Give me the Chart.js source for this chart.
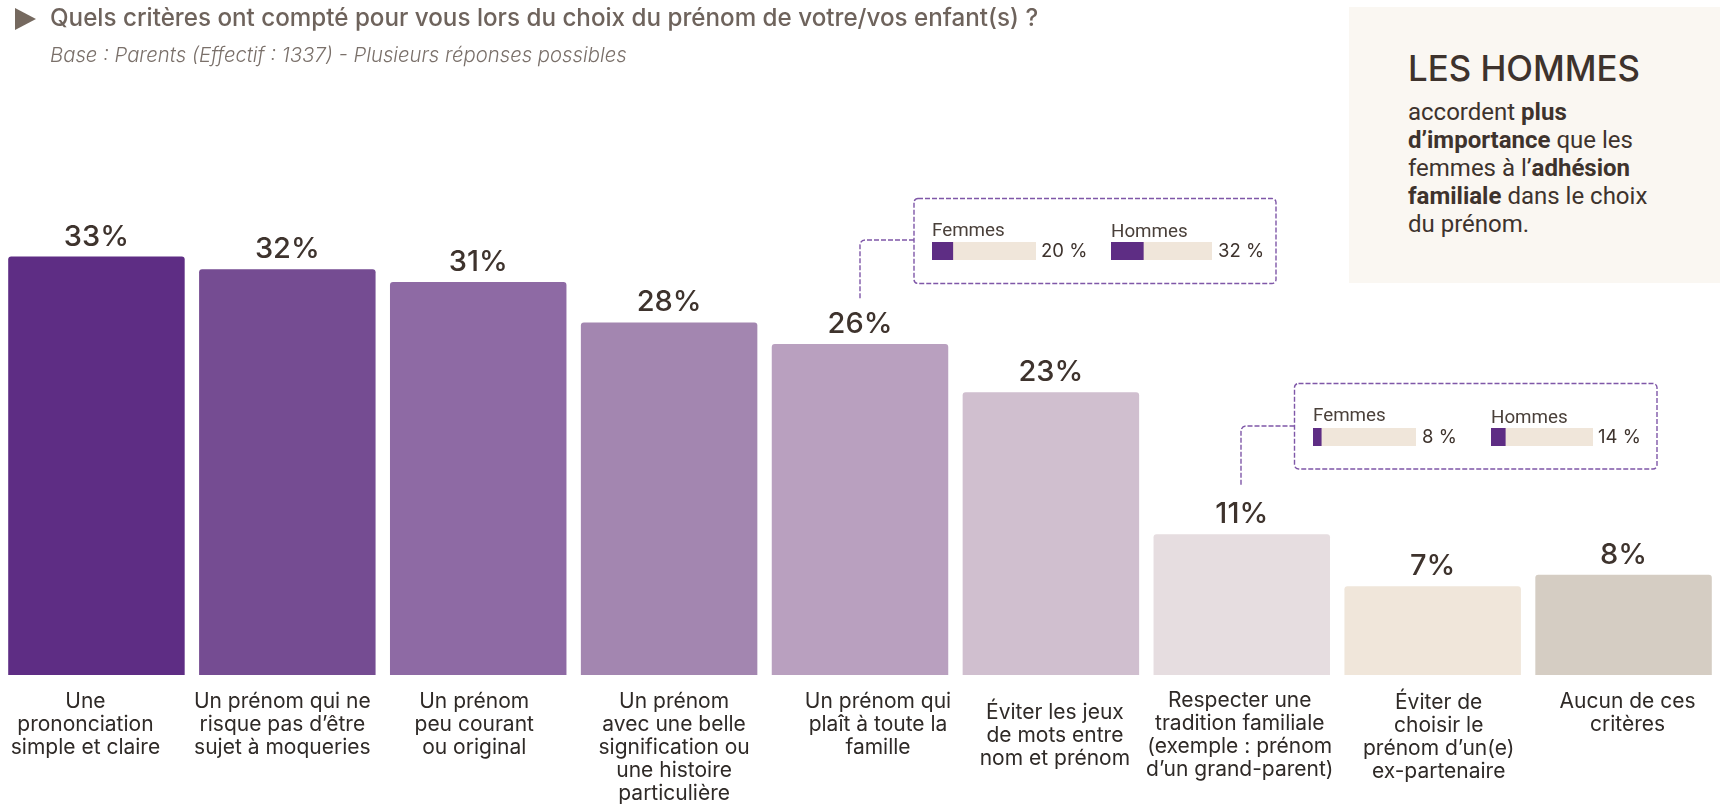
<!DOCTYPE html>
<html lang="fr">
<head>
<meta charset="utf-8">
<title>Critères du choix du prénom</title>
<script src="https://cdn.jsdelivr.net/npm/chart.js@4"></script>
<style>
  html, body { margin: 0; background: #fff; }
  #page { position: relative; width: 1720px; height: 810px; overflow: hidden; font-family: Inter, sans-serif; }
  #page > * { position: absolute; }
  #mainChart { left: 0; top: 0; }
  .txt { white-space: nowrap; line-height: 1; }
  #arrow { left: 15px; top: 8px; width: 21px; height: 22px; background: #75695f; clip-path: polygon(0 0, 100% 50%, 0 100%); }
  #title { left: 50px; top: 6px; font-size: 24.2px; font-weight: 500; color: #6e635c; }
  #subtitle { left: 50px; top: 45px; font-size: 20.3px; font-style: italic; font-weight: 300; color: #7a706a; }
  #panel { left: 1349px; top: 7px; width: 371px; height: 276px; background: #faf7f2; }
  #panelHead { left: 1408px; top: 51px; font-size: 34.8px; font-weight: 500; color: #3e332d; }
  #panelBody { left: 1408px; top: 99px; font: 24px/27.9px Roboto, sans-serif; color: #3e332d; white-space: nowrap; }
  #links { left: 0; top: 0; }
  .mini { font-family: Roboto, sans-serif; font-size: 18.8px; color: #4a403a; }
  .miniVal { font-size: 18.5px; color: #3e332d; }
</style>
</head>
<body>
<div id="page">
  <canvas id="mainChart" width="1720" height="810"></canvas>

  <div id="arrow"></div>
  <div id="title" class="txt">Quels critères ont compté pour vous lors du choix du prénom de votre/vos enfant(s) ?</div>
  <div id="subtitle" class="txt">Base : Parents (Effectif : 1337) - Plusieurs réponses possibles</div>

  <div id="panel"></div>
  <div id="panelHead" class="txt">LES HOMMES</div>
  <div id="panelBody">accordent <b>plus</b><br><b>d’importance</b> que les<br>femmes à l’<b>adhésion</b><br><b>familiale</b> dans le choix<br>du prénom.</div>

  <!-- dashed callout frames and their connectors -->
  <svg id="links" width="1720" height="810" fill="none" stroke="#7f57a8" stroke-width="1.4" stroke-dasharray="5 2">
    <rect x="914" y="198.5" width="362" height="85" rx="4"></rect>
    <path d="M914 240H865a5 5 0 0 0-5 5V300"></path>
    <rect x="1294.5" y="383.5" width="362.5" height="85.5" rx="4"></rect>
    <path d="M1294.5 426H1246a5 5 0 0 0-5 5V485"></path>
  </svg>

  <div class="txt mini" style="left:932px;top:221px">Femmes</div>
  <canvas id="miniF1" width="104" height="18" style="left:932px;top:242px"></canvas>
  <div class="txt miniVal" style="left:1041px;top:241px">20 %</div>
  <div class="txt mini" style="left:1111px;top:222px">Hommes</div>
  <canvas id="miniH1" width="101" height="18" style="left:1111px;top:242px"></canvas>
  <div class="txt miniVal" style="left:1218px;top:241px">32 %</div>

  <div class="txt mini" style="left:1313px;top:406px">Femmes</div>
  <canvas id="miniF2" width="103" height="18" style="left:1313px;top:428px"></canvas>
  <div class="txt miniVal" style="left:1422px;top:427px">8 %</div>
  <div class="txt mini" style="left:1491px;top:408px">Hommes</div>
  <canvas id="miniH2" width="102" height="18" style="left:1491px;top:428px"></canvas>
  <div class="txt miniVal" style="left:1598px;top:427px">14 %</div>
</div>

<script>
// Categories, one array per label line
const categories = [
  ["Une", "prononciation", "simple et claire"],
  ["Un prénom qui ne", "risque pas d’être", "sujet à moqueries"],
  ["Un prénom", "peu courant", "ou original"],
  ["Un prénom", "avec une belle", "signification ou", "une histoire", "particulière"],
  ["Un prénom qui", "plaît à toute la", "famille"],
  ["Éviter les jeux", "de mots entre", "nom et prénom"],
  ["Respecter une", "tradition familiale", "(exemple : prénom", "d’un grand-parent)"],
  ["Éviter de", "choisir le", "prénom d’un(e)", "ex-partenaire"],
  ["Aucun de ces", "critères"]
];

// Printed labels, and bar heights as measured on the picture
const valueLabels = ["33%", "32%", "31%", "28%", "26%", "23%", "11%", "7%", "8%"];
const barValues = [33, 32, 31, 27.8, 26.1, 22.3, 11.1, 7, 7.9];

// Men / women details shown in the two callouts
const femmesFamille = 20;
const hommesFamille = 32;
const femmesTradition = 8;
const hommesTradition = 14;

// Styles
const barColors = ["#5e2d84", "#754c92", "#8e6aa4", "#a386b0", "#b9a0bf", "#d0bfcf", "#e6dde0", "#f0e6da", "#d5cdc3"];
const labelShiftX = [-11, -5, -4, 5, 18, 4, -2, 6, 4];
const labelTopY = [708, 708, 708, 708, 708, 719, 707, 709, 708];

// Draws value labels and category labels, they don't sit exactly under the bars
const textPlugin = {
  id: "barTexts",
  afterDatasetsDraw(chart) {
    const ctx = chart.ctx;
    const meta = chart.getDatasetMeta(0);
    ctx.save();
    ctx.textAlign = "center";
    ctx.textBaseline = "alphabetic";
    meta.data.forEach((bar, i) => {
      ctx.fillStyle = "#3e332d";
      ctx.font = "500 29px Inter";
      ctx.fillText(valueLabels[i], bar.x, bar.y - 11);

      ctx.fillStyle = "#2f2a27";
      ctx.font = "400 21px Inter";
      categories[i].forEach((line, n) => {
        ctx.fillText(line, bar.x + labelShiftX[i], labelTopY[i] + n * 23);
      });
    });
    ctx.restore();
  }
};

new Chart(document.getElementById("mainChart"), {
  type: "bar",
  data: {
    labels: categories,
    datasets: [{
      data: barValues,
      backgroundColor: barColors,
      borderRadius: { topLeft: 3, topRight: 3 },
      borderSkipped: "bottom",
      barPercentage: 1,
      categoryPercentage: 0.9245
    }]
  },
  options: {
    responsive: false,
    animation: false,
    layout: { padding: { top: 41, bottom: 135, left: 1, right: 1 } },
    scales: {
      x: { display: false },
      y: { display: false, min: 0, max: 50 }
    },
    plugins: { legend: { display: false }, tooltip: { enabled: false } }
  },
  plugins: [textPlugin]
});

// Small progress bar, purple part over the beige 100 % track
function miniBar(id, value) {
  new Chart(document.getElementById(id), {
    type: "bar",
    data: {
      labels: [""],
      datasets: [
        { data: [value], backgroundColor: "#5e2d84" },
        { data: [100 - value], backgroundColor: "#f0e6da" }
      ]
    },
    options: {
      indexAxis: "y",
      responsive: false,
      animation: false,
      datasets: { bar: { barPercentage: 1, categoryPercentage: 1 } },
      scales: {
        x: { display: false, stacked: true, min: 0, max: 100 },
        y: { display: false, stacked: true }
      },
      plugins: { legend: { display: false }, tooltip: { enabled: false } }
    }
  });
}

miniBar("miniF1", femmesFamille);
miniBar("miniH1", hommesFamille);
miniBar("miniF2", femmesTradition);
miniBar("miniH2", hommesTradition);
</script>
</body>
</html>
